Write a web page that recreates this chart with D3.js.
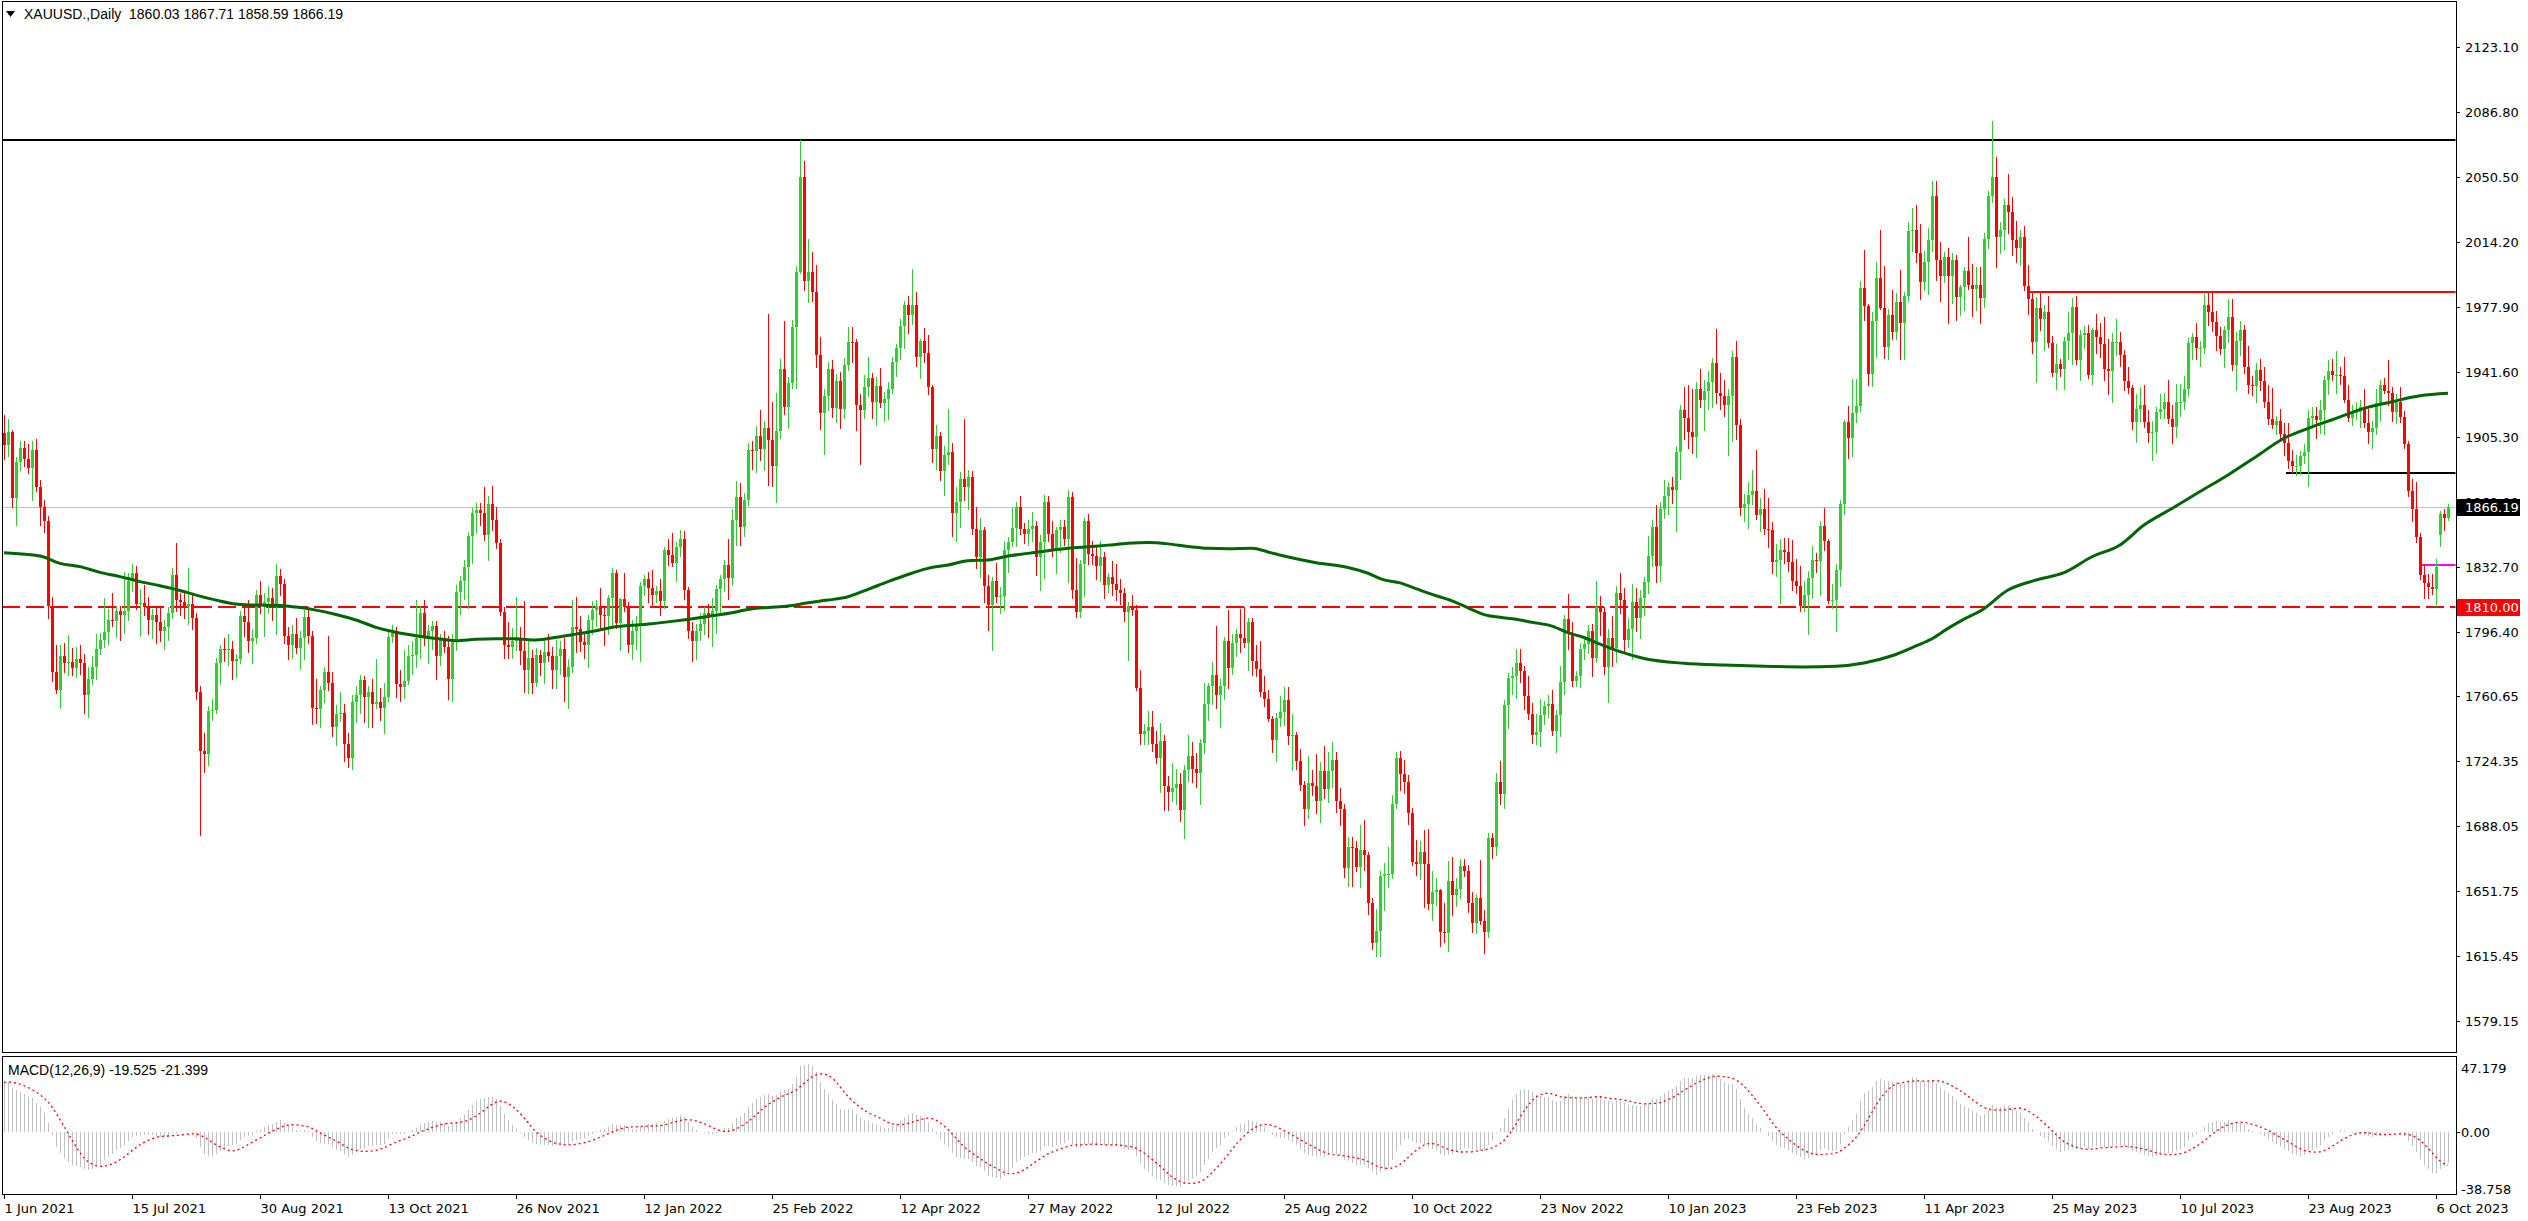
<!DOCTYPE html>
<html><head><meta charset="utf-8">
<script src="https://cdn.jsdelivr.net/npm/d3@7"></script>
<style>html,body{margin:0;padding:0;background:#fff;overflow:hidden}</style>
</head><body><svg id="chart" width="2528" height="1221"></svg>
<script>
// ---------------- DATA ----------------
const headerText = "XAUUSD.,Daily  1860.03 1867.71 1858.59 1866.19";
const macdText = "MACD(12,26,9) -19.525 -21.399";
const firstOpen = 1907.5;
// daily closes, 1 Jun 2021 (index 0) .. 11 Oct 2023 (index 611)
const closes = [
1900.5,1908,1871,1891,1899,1893,1888,1898,1877,1866,
1858,1811,1774,1764,1783,1779,1779.5,1776,1781,1779,
1761,1770,1777,1787,1792,1796.5,1803,1802.5,1808,1806,
1808,1825,1829,1812,1812.5,1810,1803,1806,1802,1797,
1799,1807,1828,1814,1813,1810,1812,1804,1763,1730,
1728,1752,1753,1779,1787,1786,1787,1780,1781,1805,
1802,1791,1793,1817,1812,1813,1815,1810,1827.5,1823,
1794,1789,1795,1787.5,1793,1804.5,1794,1754,1753.5,1764,
1774,1768,1743,1750.5,1751,1734,1726,1757,1761,1769.5,
1760,1763,1756,1757,1754,1760,1793.5,1796,1767,1765.5,
1769,1783,1783.5,1793,1807,1794,1797,1799.5,1783,1793,
1788,1770,1792,1818.5,1824.5,1832.5,1850,1862.5,1864.5,1863,
1850.5,1868,1859,1846,1807.5,1789,1788,1791.5,1792,1785.5,
1775,1782,1768,1783.5,1779,1785,1783,1775,1783,1787,
1771,1777,1799,1798,1790.5,1789,1803,1808.5,1811,1805.5,
1805,1815,1829,1801.5,1814.5,1810,1789,1797,1801,1822,
1826,1821,1817,1819,1813.5,1842,1839.5,1835,1843.5,1848.5,
1819.5,1797,1791,1797,1801,1807,1804.5,1808,1820.5,1826,
1833.5,1826.5,1859,1871.5,1855,1870,1898,1897.5,1905.5,1898.5,
1910,1903.5,1889,1908.5,1943,1922,1935.5,1966.5,1997.5,2050.5,
1992.5,1997.5,1986,1951,1918.5,1928,1943,1921.5,1936.5,1921,
1945.5,1958.5,1958,1923,1920,1933,1938,1925,1933.5,1924,
1926.5,1932,1947,1955,1967,1979,1973.5,1979,1950,1959,
1952,1933,1898.5,1906,1886,1895,1897,1863,1869,1881.5,
1877,1883,1854,1838,1853,1822,1811.5,1825,1816,1816.5,
1842,1846.5,1854.5,1866,1854,1851,1854,1855.5,1838,1846.5,
1869,1851,1841.5,1853,1855,1848,1871.5,1819.5,1807.5,1834.5,
1858,1840,1839,1833,1838,1822.5,1827,1823,1820,1818,
1807.5,1811,1808.5,1765,1739.5,1741,1743,1734,1726,1735.5,
1710,1707,1709,1711.5,1697,1719,1727,1719.5,1717.5,1734.5,
1756,1766,1772.5,1761,1766,1791.5,1776,1790,1795,1793,
1790,1802,1780,1775.5,1762.5,1759,1747.5,1736,1748,1751.5,
1758.5,1738,1738.5,1724,1711,1697.5,1712,1710,1702,1718.5,
1708.5,1718.5,1725,1702,1697.5,1664.5,1676,1675.5,1665,1674.5,
1671.5,1645,1622.5,1629.5,1660,1661,1661,1700,1726,1717,
1712.5,1695,1668,1666.5,1673.5,1666.5,1644.5,1651,1652,1629,
1628,1657.5,1649.5,1653,1665.5,1663,1645,1634,1648,1635,
1629,1681,1676,1712.5,1706,1755.5,1770.5,1771.5,1779,1774.5,
1760.5,1750.5,1738.5,1740.5,1750,1755,1756,1741,1750,1768.5,
1803.5,1796,1769,1771.5,1787,1789.5,1797,1781.5,1810.5,1807.5,
1777,1793,1787.5,1818,1814,1792,1798,1813,1804,1815,
1824,1839,1855,1833,1865,1872,1877,1875.5,1897,1920,
1916,1908,1905,1932,1926,1931,1936,1946.5,1930,1928,
1923,1928,1950,1912,1865.5,1867.5,1873,1875,1861.5,1865,
1854,1853.5,1835.5,1836.5,1842,1841,1835.5,1825,1822,1811,
1817,1826.5,1836.5,1836,1855.5,1847,1813.5,1814,1831,1868,
1913.5,1904.5,1918.5,1922.5,1988.5,1978.5,1940.5,1970,1994,1977.5,
1955.5,1973.5,1964,1980.5,1969,1984,2020,2021,2008,1991.5,
2003,2015,2040,2004,1995,2005.5,1995,2004,1983.5,1989,
1998,1990,1988,1990,1983,2016,2039.5,2050.5,2017,2021,
2035,2031,2015,2011,2017,1989.5,1982,1958,1977.5,1971,
1975,1957.5,1941,1946,1943,1959,1963,1978,1948,1962,
1963,1940,1965,1961,1957,1943,1942,1958,1958,1951,
1936.5,1932.5,1913.5,1921,1923,1913.5,1907.5,1908,1919,1921,
1925,1915,1911,1925,1925,1932,1957.5,1961,1955,1955,
1979,1975,1969.5,1961.5,1954.5,1965,1972,1945.5,1959,1965,
1944,1934,1933.5,1942.5,1936.5,1925,1915.5,1912,1914,1907,
1902,1892,1889,1889,1894.5,1897,1916,1917,1914.5,1920,
1937,1942,1940,1940,1939,1926,1916,1919,1919,1922,
1913,1908,1910,1924,1934,1931,1930,1919,1925,1916.5,
1901,1875,1865,1849.5,1828,1823.5,1821.5,1820.5,1832.8,1862,
1860.03,1866.19
];
// upper wick above max(open,close), in $
const wickUp = [
10,7,1,3,4,4,8,5,6,4, 4,3,5,15,6,7,15,8,7,8, 5,7,6,8,4,19,6,15,3,3, 22,4,5,4,8,10,6,3,4,8,
4,3,4,18,4,5,20,5,3,3, 10,3,6,3,2,6,8,4,3,3, 6,12,5,3,8,5,7,6,7,4, 3,5,5,9,4,4,6,3,16,2,
3,20,6,5,12,5,6,4,5,3, 2,3,7,24,8,8,3,4,3,8, 17,6,8,21,4,7,3,3,3,2, 4,6,3,4,3,4,2,3,4,4,
14,4,10,7,2,3,13,7,24,7, 28,10,4,4,3,8,10,5,9,4, 6,4,15,17,7,6,3,5,3,10, 5,2,3,2,1,15,3,6,4,2,
2,4,10,3,7,2,6,12,3,5, 4,2,5,4,6,3,5,7,2,2, 3,15,6,9,8,4,4,5,6,15, 4,64,21,21,6,27,3,4,3,20.4,
9,18,11,15,10,4,4,5,4,5, 4,8,8,2,6,7,12,3,5,10, 4,4,3,2,4,2,5,20,7,1, 7,10,1,6,2,5,24,5,8,4,
34,4,3,12,7,2,6,2,10,5, 5,3,11,3,6,3,5,8,3,4, 4,3,7,2,4,4,4,3,18,2, 2,4,7,6,9,3,2,9,11,6,
3,2,6,3,10,4,9,9,7,10, 3,6,14,8,6,3,12,8,9,2, 12,2,7,27,4,2,17,5,3,14, 17,2,2,9,16,9,5,2,3,9,
7,7,12,2,7,2,15,7,18,5, 14,11,10,4,7,3,6,6,4,14, 17,2,3,12,3,6,15,5,3,4, 8,4,3,12,6,12,20,12,7,1,
16,11,13,6,4,4,3,6,2,21, 6,3,3,5,12,3,3,5,8,8, 3,11,6,10,9,3,5,8,3,9, 2,14,6,3,3,3,3,4,14,6,
3,5,12,4,11,7,6,10,8,5, 3,11,4,12,4,9,3,6,3,3, 13,18,24,4,11,6,6,3,19,11, 9,4,3,9,3,6,7,12,23,6,
11,17,4,9,6,7,8,12,12,11, 8,4,8,4,3,10,1,9,3,2, 1,9,19,15,4,21,1,5,9,27, 23,3,14,5,18,2,5,12,14,16,
6,7,8,8,10,3,5,4,3,1, 2,19,12,10,10,3,3,31,11,4, 3,17,8,11,4,6,12,4,6,8, 4,9,4,11,3,2,12,5,6,3,
4,5,1,9,8,15,17,5,13,6, 3,8,2,8,10,11,7,6,3,8, 5,12,8,10,10,7,3,2,8,4, 6,8,12,6,5,2,10,10,5,5,
3,12,5,4,6,8,9,17,3,7, 6,11,6,6,3,4,4,5,5,6, 2,6,7,13,4,11,8,4,6,4, 10,8,4,8,3,4,17,3,4,8,
3,2,7,15,2,6,5,7,4,2, 3,1.52
];
// lower wick below min(open,close), in $
const wickDown = [
7.5,6,5,15,4,4,3,18,2,10, 6,7,5,2,10,5,7,4,5,6, 10,12,3,7,3,4,7,3,9,14, 10,5,6,3,18,4,8,10,12,6,
10,7,3,6,7,6,9,6,4,47, 10,6,5,2,12,6,8,10,9,2, 8,6,12,3,5,18,6,7,15,6, 4,8,7,3,12,12,4,9,8,10,
7,4,5,10,4,10,5,6,11,10, 14,17,13,2,7,14,2,3,7,8, 6,2,10,7,11,5,15,10,13,5, 3,11,12,6,12,10,23,15,11,7,
3,14,6,3,2,7,6,6,5,7, 12,13,6,2,7,11,3,10,10,10, 13,17,3,13,5,7,12,8,9,7, 16,10,15,3,15,2,4,8,10,21,
5,8,7,4,8,4,6,2,10,5, 5,4,11,10,5,6,11,16,12,14, 7,12,4,14,10,5,3,10,12,6, 12,25,11,20,4,4,12,3,34,0.5,
5,12,5,7,9,23,8,5,8,11, 5,3,11,14,30,4,5,9,13,2, 10,11,2,8,6,12,10,5,5,12, 5,4,7,11,5,13,5,13,16,14,
7,12,3,6,11,9,14,25,3,9, 8,12,2,10,3,5,6,7,10,18, 20,4,3,12,12,3,24,4,3,3, 18,6,5,7,8,7,4,6,6,6,
5,27,3,1,6,6,7,4,3,19, 13,10,5,9,6,16,6,7,8,17, 6,9,10,7,18,7,11,3,7,8, 2,15,8,4,2,4,1,7,12,4,
7,4,19,4,3,9,5,5,7,12, 5,7,9,6,9,5,10,21,2,11, 8,6,3,7,14,19,7,2,2,9, 6,6,2,6,8,24,3,9,7,8,
5,10,11,6,5,3,5,5,6,2, 12,3,6,4,6,8,13,9,12,6, 7,3,4,5,8,5,6,2,12,12, 7,9,3,3,6,6,5,10,2,13,
4,20,10,8,7,7,4,17,7,11, 9,6,6,9,8,5,10,7,23,15, 12,9,9,11,4,17,10,14,6,7, 6,28,25,8,4,7,13,5,2,9,
3,10,6,8,24,6,5,5,4,3, 3,22,11,6,19,5,1,4,17,9, 6,11,10,5,3,8,6,7,20,1, 6,7,4,4,20,20,3,11,5,9,
4,18,6,11,14,3,26,15,13,10, 13,2,15,12,14,5,5,3,17,9, 11,12,8,8,10,2,8,6,22,6, 17,2,2,9,4,11,10,17,2,11,
7,2,5,9,7,6,13,17,7,6, 5,3,4,11,7,3,5,15,12,3, 5,2,9,6,8,4,4,9,6,10, 3,7,5,8,3,10,7,3,14,8,
3,4,5,9,5,3,3,2,5,4, 7,4,4,5,4.5,4,19,5,10,7, 13,8,3,10,4,1,2,4,4,8, 2,6,9,3,10,1,7,5,6,3,
2,3,7,3,2,8.5,6,3,9.7,6, 7,1.44
];
// opening gaps (bar index, open)
const openGaps = [[609, 1850.5]];
// closes before the visible range (Mar-May 2021), used only to warm up the MACD
const preCloses = [
1723,1737,1711,1697,1700,1683,1716,1726,1722,1719,1730,1731,1745,1735,1745,1738,1727,1734,1726,1732,1712,1685,1708,
1728,1728,1743,1737,1756,1744,1732,1747,1736,1764,1777,1770,1778,1793,1783,1777,1780,1778,1780,1771,1768,
1792,1779,1785,1815,1831,1836,1837,1816,1826,1843,1867,1869,1870,1876,1881,1882,1898,1896,1896,1903,1906
];
// 200-period moving average (bar index, value)
const maIdx = [0,9,14,19,24,29,34,39,44,48,53,58,63,68,73,78,83,88,93,98,103,108,113,118,123,128,133,138,143,148,153,160,168,176,183,186,191,196,201,206,211,216,221,226,231,236,241,246,251,256,261,266,271,276,281,286,291,296,301,306,312,316,320,328,336,341,345,349,353,357,362,366,370,374,378,382,387,391,395,399,404,410,420,430,440,450,458,465,472,478,482,486,490,494.5,501,508,515,522,529,535,542,549,556,563,570,576,583,590,597,604,611];
const maVals = [1840.6,1838.7,1834.6,1832.8,1829.6,1827.2,1824.4,1822.1,1819.5,1816.9,1814.1,1811.9,1811.3,1811.2,1810.2,1808.5,1806.1,1803,1798.9,1796.1,1794.2,1792.7,1791.4,1792.2,1792.5,1792.5,1791.8,1793.3,1795.1,1797,1799.2,1800.5,1802.5,1805,1807.5,1808.9,1810,1810.8,1812.6,1814.1,1816,1820.1,1824.4,1828.4,1831.8,1833.7,1836.1,1836.5,1838.7,1840.2,1841.7,1843,1843.9,1844.8,1845.8,1846.2,1845.5,1844,1843,1842.8,1843,1841,1838.7,1835,1832.3,1829.1,1825.4,1823.7,1820.5,1817.3,1813.7,1809.8,1806,1804.5,1803.4,1801.7,1799.6,1795.9,1793.2,1789.5,1785.3,1781.5,1778.8,1777.8,1777.2,1776.8,1777.2,1779,1783,1788.5,1792.5,1798.3,1803.5,1808.6,1819.7,1825.3,1829.4,1838.3,1844.9,1856,1865.3,1874.7,1884,1894.2,1904.5,1910,1915.6,1921.2,1924.9,1928.2,1929.6];
const priceTicks = [2123.10,2086.80,2050.50,2014.20,1977.90,1941.60,1905.30,1869.00,1832.70,1796.40,1760.65,1724.35,1688.05,1651.75,1615.45,1579.15];
const macdTicks = [47.179, 0, -38.758];
const macdTickText = ["47.179", "0.00", "-38.758"];
const dateTickIdx = [0,32,64,96,128,160,192,224,256,288,320,352,384,416,448,480,512,544,576,608];
const dateTickLabels = ["1 Jun 2021","15 Jul 2021","30 Aug 2021","13 Oct 2021","26 Nov 2021","12 Jan 2022","25 Feb 2022","12 Apr 2022","27 May 2022","12 Jul 2022","25 Aug 2022","10 Oct 2022","23 Nov 2022","10 Jan 2023","23 Feb 2023","11 Apr 2023","25 May 2023","10 Jul 2023","23 Aug 2023","6 Oct 2023"];
// horizontal levels: [price, start bar (null = full width), colour, width, dash]
const levelLines = [
  [2070.9, null, "#000000", 2, null],
  [1986.3, 506, "#FF0000", 2, null],
  [1885.3, 570.5, "#000000", 2, null],
  [1833.8, 604, "#FF00FF", 2, null],
  [1866.19, null, "#C0C0C0", 1, null],
  [1810.00, null, "#FF0000", 1.2, "18,6"]
];
const bidPrice = 1866.19, alertPrice = 1810.00;

// ---------------- LAYOUT ----------------
const svg = d3.select("#chart");
const paneL = 2, paneR = 2456;
const mainTop = 1, mainBot = 1052, macdTop = 1056, macdBot = 1194;
const n = closes.length;
const x = d3.scaleLinear().domain([0, n - 1]).range([4, 4 + 4 * (n - 1)]);
const y = d3.scaleLinear().domain([1579.15, 2123.10]).range([1020.8, 46.8]);
const yM = d3.scaleLinear().domain([-38.758, 47.179]).range([1193, 1058]);

svg.append("rect").attr("width", 2528).attr("height", 1221).attr("fill", "#fff");
const defs = svg.append("defs");
defs.append("clipPath").attr("id", "cMain").append("rect")
  .attr("x", paneL + 0.5).attr("y", mainTop + 0.5).attr("width", paneR - paneL - 1).attr("height", mainBot - mainTop - 1);
defs.append("clipPath").attr("id", "cMacd").append("rect")
  .attr("x", paneL + 0.5).attr("y", macdTop + 0.5).attr("width", paneR - paneL - 1).attr("height", macdBot - macdTop - 1);

const candles = closes.map((c, i) => {
  let o = i === 0 ? firstOpen : closes[i - 1];
  const g = openGaps.find(d => d[0] === i);
  if (g) o = g[1];
  return { i, o, c, h: Math.max(o, c) + wickUp[i], l: Math.min(o, c) - wickDown[i] };
});

const main = svg.append("g").attr("clip-path", "url(#cMain)");

// level lines (behind candles)
const lvl = main.append("g");
levelLines.forEach(([p, start, col, w, dash]) => {
  const yy = w % 2 === 1 ? Math.round(y(p)) + 0.5 : Math.round(y(p));
  const x0 = start === null ? paneL : x(start);
  const ln = lvl.append("line").attr("x1", x0).attr("x2", paneR).attr("y1", yy).attr("y2", yy)
    .attr("stroke", col).attr("stroke-width", w).attr("shape-rendering", "crispEdges");
  if (dash) ln.attr("stroke-dasharray", dash);
});

// candles
const cg = main.append("g").attr("shape-rendering", "crispEdges");
candles.forEach(d => {
  const cx = Math.round(x(d.i));
  const col = d.c >= d.o ? "#32CD32" : "#FF0000";
  const yh = Math.round(y(d.h)), yl = Math.round(y(d.l));
  cg.append("rect").attr("x", cx).attr("y", yh).attr("width", 1).attr("height", Math.max(1, yl - yh + 1)).attr("fill", col);
  const yt = Math.round(y(Math.max(d.o, d.c))), yb = Math.round(y(Math.min(d.o, d.c)));
  cg.append("rect").attr("x", cx - 1).attr("y", yt).attr("width", 3).attr("height", Math.max(1, yb - yt)).attr("fill", col);
});

// moving average
const maPts = maIdx.map((k, j) => [k, maVals[j]]);
main.append("path").attr("d", d3.line().x(d => x(d[0])).y(d => y(d[1])).curve(d3.curveMonotoneX)(maPts))
  .attr("fill", "none").attr("stroke", "#006400").attr("stroke-width", 3);

// ---------------- MACD ----------------
const all = preCloses.concat(closes);
function ema(arr, p) { const k = 2 / (p + 1); let e = arr[0]; return arr.map((v, i) => (e = i === 0 ? v : v * k + e * (1 - k))); }
const e12 = ema(all, 12), e26 = ema(all, 26);
const macdAll = all.map((v, i) => e12[i] - e26[i]);
const sigAll = macdAll.map((v, i) => d3.mean(macdAll.slice(Math.max(0, i - 8), i + 1)));
const off = preCloses.length;
const macd = macdAll.slice(off), signal = sigAll.slice(off);

const mg = svg.append("g").attr("clip-path", "url(#cMacd)");
const z0 = Math.round(yM(0));
const hg = mg.append("g").attr("shape-rendering", "crispEdges");
macd.forEach((v, i) => {
  const cx = Math.round(x(i)) + 0.5;
  hg.append("line").attr("x1", cx).attr("x2", cx).attr("y1", z0).attr("y2", yM(v))
    .attr("stroke", "#C0C0C0").attr("stroke-width", 1);
});
mg.append("path").attr("d", d3.line().x((d, i) => x(i)).y(d => yM(d))(signal))
  .attr("fill", "none").attr("stroke", "#FF0000").attr("stroke-width", 1.3).attr("stroke-dasharray", "2,3");

// ---------------- FRAMES ----------------
const fr = svg.append("g").attr("fill", "none").attr("stroke", "#000").attr("stroke-width", 1).attr("shape-rendering", "crispEdges");
fr.append("rect").attr("x", paneL + 0.5).attr("y", mainTop + 0.5).attr("width", paneR - paneL).attr("height", mainBot - mainTop);
fr.append("rect").attr("x", paneL + 0.5).attr("y", macdTop + 0.5).attr("width", paneR - paneL).attr("height", macdBot - macdTop);

// ---------------- AXES ----------------
const FONT = "'DejaVu Sans', Verdana, sans-serif";
const ax = svg.append("g").attr("font-family", FONT).attr("font-size", 13).attr("fill", "#000");
priceTicks.forEach(p => {
  const yy = Math.round(y(p)) + 0.5;
  ax.append("line").attr("x1", paneR).attr("x2", paneR + 4).attr("y1", yy).attr("y2", yy).attr("stroke", "#000").attr("shape-rendering", "crispEdges");
  ax.append("text").attr("x", paneR + 9).attr("y", yy).attr("dy", "0.36em").text(p.toFixed(2));
});
// price boxes
[[bidPrice, "#000000"], [alertPrice, "#FF0000"]].forEach(([p, col]) => {
  const yy = Math.round(y(p));
  ax.append("rect").attr("x", paneR + 1).attr("y", yy - 8).attr("width", 63).attr("height", 17).attr("fill", col);
  ax.append("text").attr("x", paneR + 9).attr("y", yy + 0.5).attr("dy", "0.36em").attr("fill", "#fff").text(p.toFixed(2));
});
// macd axis
macdTicks.forEach((v, j) => {
  const yy = Math.round(yM(v)) + 0.5;
  const ty = j === 0 ? yy + 10 : (j === 2 ? yy - 4 : yy);
  if (j === 1) ax.append("line").attr("x1", paneR).attr("x2", paneR + 4).attr("y1", yy).attr("y2", yy).attr("stroke", "#000").attr("shape-rendering", "crispEdges");
  ax.append("text").attr("x", paneR + 5).attr("y", ty).attr("dy", "0.36em").text(macdTickText[j]);
});
// date axis
dateTickIdx.forEach((k, j) => {
  const xx = Math.round(x(k)) + 0.5;
  ax.append("line").attr("x1", xx).attr("x2", xx).attr("y1", macdBot).attr("y2", macdBot + 5).attr("stroke", "#000").attr("shape-rendering", "crispEdges");
  ax.append("text").attr("x", xx).attr("y", 1213).text(dateTickLabels[j]);
});

// header + indicator label
const HF = "'Liberation Sans', Arial, sans-serif";
svg.append("path").attr("d", "M6,11 L15,11 L10.5,17 Z").attr("fill", "#000");
svg.append("text").attr("x", 24).attr("y", 19).attr("font-family", HF).attr("font-size", 14)
  .attr("xml:space", "preserve").style("white-space", "pre").text(headerText);
svg.append("text").attr("x", 8).attr("y", 1075).attr("font-family", HF).attr("font-size", 14).text(macdText);
</script>
</body></html>
